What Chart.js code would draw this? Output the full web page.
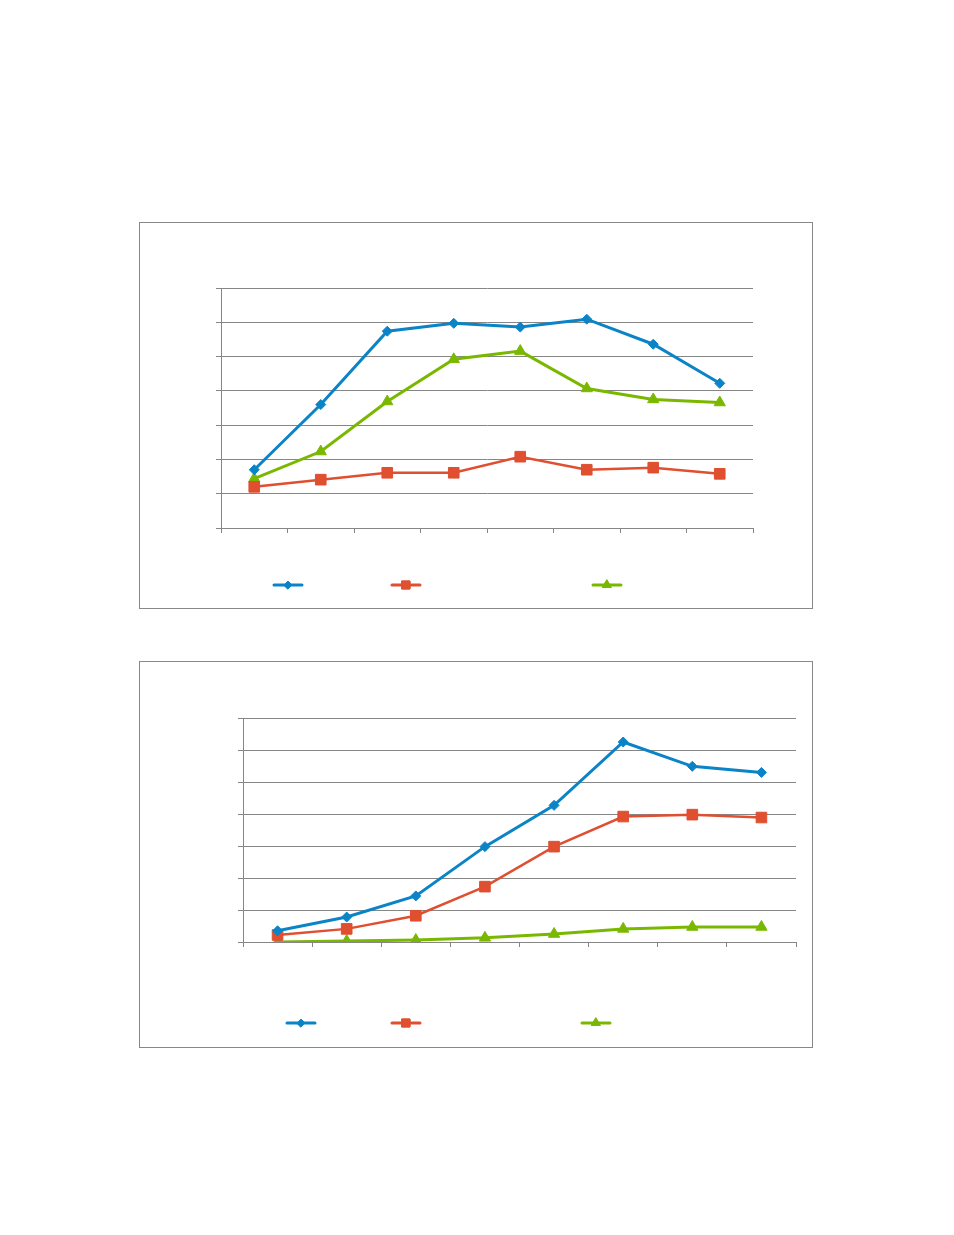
<!DOCTYPE html>
<html>
<head>
<meta charset="utf-8">
<script src="https://cdn.jsdelivr.net/npm/chart.js@4.4.1/dist/chart.umd.min.js"></script>
<style>
  body { margin: 0; background: #fff; }
  .box { position: absolute; left: 139px; width: 674px; height: 387px; box-sizing: border-box; border: 1px solid #888; background: #fff; }
  #box1 { top: 222px; }
  #box2 { top: 661px; }
  canvas { display: block; }
</style>
</head>
<body>
<div class="box" id="box1"><canvas id="chart1" width="672" height="385"></canvas></div>
<div class="box" id="box2"><canvas id="chart2" width="672" height="385"></canvas></div>
<script>
// 8 categories, no visible labels in the picture
const categories = ["1", "2", "3", "4", "5", "6", "7", "8"];

// top chart
const topBlue  = [1.70, 3.60, 5.74, 5.97, 5.86, 6.09, 5.36, 4.22];
const topRed   = [1.20, 1.41, 1.61, 1.61, 2.08, 1.70, 1.76, 1.58];
const topGreen = [1.44, 2.23, 3.69, 4.92, 5.16, 4.07, 3.75, 3.66];

// bottom chart
const bottomBlue  = [0.35, 0.78, 1.44, 2.98, 4.27, 6.25, 5.49, 5.30];
const bottomRed   = [0.22, 0.41, 0.82, 1.73, 2.98, 3.92, 3.98, 3.89];
const bottomGreen = [0.00, 0.03, 0.06, 0.13, 0.25, 0.41, 0.47, 0.47];

const yMin = 0, yMax = 7, yStep = 1;

const BLUE = '#0a84c6', RED = '#df4f30', GREEN = '#7ab800', GRID = '#868686';

function series(values, color, style, radius, width) {
    return {
        data: values,
        borderColor: color,
        backgroundColor: color,
        pointStyle: style,
        pointRadius: radius,
        pointHoverRadius: radius,
        borderWidth: width,
        pointBorderWidth: 1,
        tension: 0
    };
}

// draws legend keys (line + marker) with no text
const keyLegend = {
    id: 'keyLegend',
    afterDraw(chart, args, opts) {
        const ctx = chart.ctx;
        chart.data.datasets.forEach((ds, i) => {
            const x = opts.xs[i], y = opts.y;
            ctx.save();
            ctx.strokeStyle = ds.borderColor;
            ctx.lineWidth = 3;
            ctx.lineCap = 'round';
            ctx.beginPath();
            ctx.moveTo(x - 14, y);
            ctx.lineTo(x + 14, y);
            ctx.stroke();
            ctx.fillStyle = ds.backgroundColor;
            ctx.lineWidth = 1;
            Chart.helpers.drawPoint(ctx, {pointStyle: ds.pointStyle, radius: ds.pointRadius * 0.75, borderWidth: 1}, x, y);
            ctx.fill();
            ctx.stroke();
            ctx.restore();
        });
    }
};

function makeChart(id, blue, red, green, padding, legendPos) {
    return new Chart(document.getElementById(id).getContext('2d'), {
        type: 'line',
        data: {
            labels: categories,
            datasets: [
                series(blue, BLUE, 'rectRot', 5, 3),
                series(red, RED, 'rect', 7.5, 2.5),
                series(green, GREEN, 'triangle', 6.5, 3)
            ]
        },
        options: {
            responsive: false,
            animation: { duration: 0 },
            layout: { padding: padding },
            plugins: {
                legend: { display: false },
                title: { display: false },
                tooltip: { enabled: false },
                keyLegend: legendPos
            },
            scales: {
                x: {
                    offset: true,
                    ticks: { display: false },
                    grid: { offset: true, drawOnChartArea: false, drawTicks: true, tickLength: 5, color: GRID, lineWidth: 1 },
                    border: { color: GRID, width: 1 }
                },
                y: {
                    min: yMin,
                    max: yMax,
                    ticks: { display: false, stepSize: yStep },
                    grid: { color: GRID, lineWidth: 1, tickLength: 5 },
                    border: { color: GRID, width: 1 }
                }
            }
        },
        plugins: [keyLegend]
    });
}

makeChart('chart1', topBlue, topRed, topGreen,
    { left: 76, top: 65, right: 59, bottom: 75 },
    { xs: [148, 266, 467], y: 362 });

makeChart('chart2', bottomBlue, bottomRed, bottomGreen,
    { left: 98, top: 56, right: 16, bottom: 100 },
    { xs: [161, 266, 456], y: 361 });
</script>
</body>
</html>
